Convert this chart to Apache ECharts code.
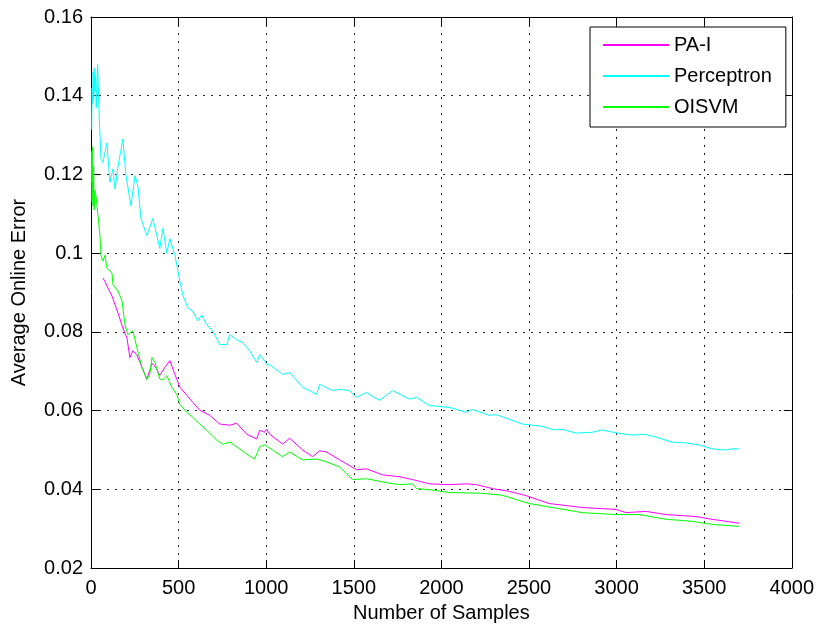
<!DOCTYPE html>
<html>
<head>
<meta charset="utf-8">
<script src="https://cdn.jsdelivr.net/npm/echarts@6/dist/echarts.min.js"></script>
<style>
  html, body { margin: 0; padding: 0; background: #fff; }
  #chart1 { width: 817px; height: 628px; }
</style>
</head>
<body>
<div id="chart1"></div>
<script>
var seriesNames = ['PA-I', 'Perceptron', 'OISVM'];
var seriesColors = ['#ff00ff', '#00ffff', '#00ff00'];

// [number of samples, average online error]
var paData = [
	[68, 0.0937], [80, 0.0928], [97, 0.0911], [120, 0.0891], [137, 0.0869], [154, 0.0848],
	[182, 0.081], [205, 0.0785], [222, 0.0735], [239, 0.0752], [262, 0.0742], [291, 0.071],
	[319, 0.068], [348, 0.072], [365, 0.0713], [393, 0.069], [422, 0.071], [450, 0.0727],
	[479, 0.0692], [507, 0.066], [547, 0.0639], [581, 0.0621], [621, 0.0601], [678, 0.0588],
	[735, 0.0566], [792, 0.0563], [832, 0.0568], [889, 0.054], [946, 0.0528], [963, 0.055],
	[991, 0.0545], [1003, 0.0553], [1020, 0.054], [1094, 0.0515], [1134, 0.053], [1208, 0.05],
	[1265, 0.0483], [1305, 0.0498], [1345, 0.0495], [1419, 0.0475], [1516, 0.045], [1573, 0.0452],
	[1664, 0.0437], [1761, 0.0432], [1835, 0.0425], [1932, 0.0414], [2046, 0.0412], [2142, 0.0414],
	[2199, 0.0412], [2291, 0.0402], [2387, 0.0395], [2484, 0.0384], [2615, 0.0364], [2803, 0.0354],
	[2997, 0.0349], [3054, 0.0341], [3168, 0.0344], [3282, 0.0336], [3453, 0.0331], [3544, 0.0324],
	[3700, 0.0314]
];

var perceptronData = [
	[4, 0.1314], [6, 0.142], [9, 0.138], [12, 0.146], [15, 0.139], [18, 0.147], [22, 0.141],
	[26, 0.145], [30, 0.137], [38, 0.148], [46, 0.1358], [57, 0.1239], [68, 0.123], [91, 0.128],
	[108, 0.118], [125, 0.1214], [137, 0.1163], [154, 0.122], [182, 0.129], [199, 0.12],
	[228, 0.112], [251, 0.1197], [268, 0.117], [285, 0.1088], [319, 0.1045], [353, 0.1088],
	[393, 0.1012], [410, 0.1063], [433, 0.1], [450, 0.1037], [479, 0.0995], [507, 0.0929],
	[524, 0.0894], [553, 0.0861], [581, 0.0853], [610, 0.0828], [632, 0.0843], [661, 0.0818],
	[695, 0.0803], [735, 0.0768], [775, 0.0768], [792, 0.0793], [832, 0.078], [866, 0.0773],
	[906, 0.0752], [946, 0.0722], [963, 0.0742], [991, 0.0727], [1003, 0.0717], [1020, 0.0717],
	[1094, 0.0692], [1134, 0.0697], [1208, 0.0659], [1248, 0.0651], [1288, 0.0641], [1305, 0.0667],
	[1379, 0.0651], [1419, 0.0654], [1476, 0.0651], [1516, 0.0634], [1573, 0.0646], [1647, 0.0626],
	[1721, 0.0651], [1818, 0.0629], [1858, 0.0634], [1932, 0.0613], [2046, 0.0608], [2142, 0.0596],
	[2177, 0.0603], [2274, 0.0588], [2313, 0.059], [2387, 0.0578], [2462, 0.0566], [2519, 0.0563],
	[2576, 0.056], [2644, 0.0551], [2684, 0.0553], [2769, 0.0543], [2860, 0.0545], [2917, 0.0551],
	[3003, 0.0543], [3088, 0.0538], [3157, 0.054], [3225, 0.0533], [3316, 0.052], [3396, 0.0518],
	[3470, 0.0513], [3544, 0.0503], [3624, 0.05], [3658, 0.0503], [3700, 0.0503]
];

var oisvmData = [
	[2, 0.118], [4, 0.126], [6, 0.113], [9, 0.127], [12, 0.112], [15, 0.122], [18, 0.111],
	[22, 0.116], [28, 0.1146], [40, 0.1096], [51, 0.1045], [57, 0.0995], [68, 0.098], [80, 0.0995],
	[91, 0.0962], [120, 0.095], [125, 0.092], [154, 0.0904], [177, 0.0879], [194, 0.0818],
	[211, 0.0793], [239, 0.0803], [262, 0.076], [291, 0.071], [319, 0.0679], [336, 0.0692],
	[348, 0.0735], [365, 0.0722], [393, 0.068], [410, 0.0678], [433, 0.0689], [462, 0.0659],
	[490, 0.0641], [507, 0.0616], [547, 0.0596], [581, 0.0583], [621, 0.0566], [661, 0.055],
	[718, 0.0525], [752, 0.0515], [792, 0.052], [832, 0.0508], [889, 0.049], [934, 0.0477],
	[963, 0.0508], [991, 0.0513], [1037, 0.05], [1094, 0.0483], [1134, 0.0495], [1208, 0.0475],
	[1288, 0.0477], [1345, 0.047], [1419, 0.0457], [1493, 0.0425], [1573, 0.0427], [1687, 0.0417],
	[1761, 0.0412], [1835, 0.0414], [1858, 0.0402], [1932, 0.0399], [2046, 0.0392], [2234, 0.039],
	[2348, 0.0385], [2501, 0.0364], [2672, 0.0351], [2803, 0.0341], [2997, 0.0336], [3128, 0.0336],
	[3282, 0.0324], [3430, 0.0319], [3544, 0.0311], [3700, 0.0306]
];

var font = 'Liberation Sans, Arial, sans-serif';
var dots = { show: true, lineStyle: { color: '#222', width: 1, type: [2, 6] } };
var line = { show: true, onZero: false, lineStyle: { color: '#000', width: 1 } };
var tick = { show: true, inside: true, length: 8, lineStyle: { color: '#000' } };
var label = { color: '#000', fontFamily: font, fontSize: 20 };

function mkLine(name, data, color) {
	return {
		name: name,
		type: 'line',
		data: data,
		symbol: 'none',
		showSymbol: false,
		color: color,
		lineStyle: { color: color, width: 1 },
		xAxisIndex: 0,
		yAxisIndex: 0
	};
}

var option = {
	backgroundColor: '#fff',
	animation: false,
	grid: { left: 91, right: 24, top: 17, bottom: 56 },
	legend: {
		orient: 'vertical',
		left: 590,
		top: 27,
		align: 'left',
		icon: 'rect',
		itemWidth: 66,
		itemHeight: 2,
		itemGap: 11,
		padding: [8, 14, 10, 13],
		backgroundColor: '#fff',
		borderColor: '#000',
		borderWidth: 1,
		textStyle: { color: '#000', fontFamily: font, fontSize: 20 },
		data: seriesNames
	},
	xAxis: [{
		type: 'value', min: 0, max: 4000, interval: 500,
		name: 'Number of Samples', nameLocation: 'middle', nameGap: 32,
		nameTextStyle: label,
		axisLine: line, axisTick: tick, splitLine: dots,
		axisLabel: Object.assign({ margin: 10, formatter: function (v) { return String(v); } }, label)
	}, {
		type: 'value', min: 0, max: 4000, interval: 500, position: 'top',
		axisLine: line, axisTick: tick, splitLine: { show: false }, axisLabel: { show: false }
	}],
	yAxis: [{
		type: 'value', min: 0.02, max: 0.16, interval: 0.02,
		name: 'Average Online Error', nameLocation: 'middle', nameGap: 62,
		nameTextStyle: label,
		axisLine: line, axisTick: tick, splitLine: dots,
		axisLabel: Object.assign({ margin: 8 }, label)
	}, {
		type: 'value', min: 0.02, max: 0.16, interval: 0.02, position: 'right',
		axisLine: line, axisTick: tick, splitLine: { show: false }, axisLabel: { show: false }
	}],
	series: [
		mkLine(seriesNames[0], paData, seriesColors[0]),
		mkLine(seriesNames[1], perceptronData, seriesColors[1]),
		mkLine(seriesNames[2], oisvmData, seriesColors[2])
	]
};
var chart1 = echarts.init(document.getElementById('chart1'));
chart1.setOption(option);
</script>
</body>
</html>
